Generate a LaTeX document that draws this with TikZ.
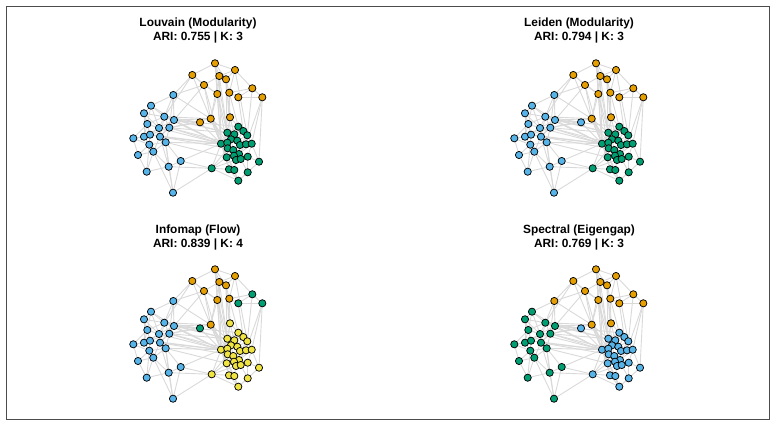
\documentclass[tikz,border=0pt]{standalone}
\usepackage{fontspec}
\setmainfont{Liberation Sans}
\usetikzlibrary{backgrounds}

\definecolor{okOrange}{HTML}{E69F00}
\definecolor{okBlue}{HTML}{56B4E9}
\definecolor{okGreen}{HTML}{009E73}
\definecolor{okYellow}{HTML}{F0E442}
\definecolor{edgeGray}{HTML}{D9D9D9}

% one network panel, node names get the prefix #1
\newcommand{\drawnet}[1]{%
  \foreach \n/\x/\y/\g in {1/215.0/63.3/A, 2/235.0/70.0/A, 3/192.3/75.0/A, 4/219.3/76.0/A, 5/226.0/79.3/A,
      6/204.0/85.0/A, 7/252.3/88.3/D, 8/217.3/94.0/A, 9/229.3/92.7/A, 10/238.3/97.3/D, 11/262.3/97.3/D,
      12/210.7/118.7/A, 13/230.0/117.3/E, 14/200.0/122.3/F,
      15/173.3/95.0/G, 16/151.0/105.7/B, 17/144.0/113.3/B, 18/164.3/116.7/B, 19/174.0/120.0/B,
      20/147.3/124.0/B, 21/159.0/128.0/B, 22/169.3/127.7/B, 23/133.3/138.3/B, 24/144.0/136.7/B,
      25/150.0/134.7/B, 26/160.0/136.7/B, 27/165.7/142.3/B, 28/149.3/144.7/B, 29/153.3/151.7/B,
      30/138.0/155.0/B, 31/180.7/161.0/B, 32/168.7/166.7/B, 33/146.7/171.7/B, 34/173.0/192.7/B,
      35/238.3/126.7/C, 36/243.3/131.0/C, 37/247.3/135.3/C, 38/227.3/132.7/C, 39/234.3/134.3/C,
      40/231.0/139.3/C, 41/237.3/140.7/C, 42/221.0/143.7/C, 43/227.3/142.7/C, 44/240.0/145.0/C,
      45/246.0/144.3/C, 46/251.7/143.7/C, 47/227.7/148.3/C, 48/233.3/150.0/C, 49/239.0/154.0/C,
      50/226.7/157.3/C, 51/234.0/155.7/C, 52/236.0/160.0/C, 53/240.7/159.0/C, 54/247.7/156.7/C,
      55/259.0/161.7/C, 56/211.7/168.3/C, 57/229.0/169.3/C, 58/234.3/170.0/C, 59/247.7/172.3/C,
      60/238.3/180.7/C}
    \node[vertex, fill=c\g] (#1\n) at (\x,\y) {};
  \begin{pgfonlayer}{background}
    \foreach \a/\b in {1/2, 1/3, 1/4, 1/5, 1/8, 2/4, 2/5, 2/7, 3/6, 3/8, 4/5, 4/6, 4/8, 5/9, 6/8, 6/12,
        7/10, 7/11, 7/9, 9/10, 10/11, 8/12, 9/13, 5/13, 4/12, 2/9,
        3/15, 6/15, 3/18, 12/18, 12/19, 14/19, 14/18, 14/22, 6/19, 12/22, 15/12,
        1/42, 4/42, 4/38, 5/43, 8/38, 8/42, 8/47, 9/35, 12/42, 12/38, 12/43, 13/35, 13/39, 13/38,
        7/37, 11/46, 11/55, 11/45, 10/36, 14/42, 6/42, 3/42, 2/37, 5/40, 12/50, 12/47, 1/38,
        15/16, 15/18, 15/19, 15/22, 16/17, 16/18, 16/20, 16/19, 17/18, 17/20, 17/21, 17/24,
        18/19, 18/21, 18/22, 18/20, 19/22, 19/21, 20/21, 20/24, 20/25, 21/22, 21/25, 21/26,
        22/26, 22/27, 23/24, 23/20, 23/28, 23/30, 24/25, 24/28, 25/26, 25/28, 26/27, 26/29,
        27/28, 27/29, 28/29, 28/30, 29/30, 29/33, 30/33, 32/33, 29/32, 27/32, 31/27, 31/32,
        26/19, 22/25, 24/21, 18/26, 16/21, 17/25, 33/28, 32/26,
        19/42, 19/38, 22/42, 22/43, 18/42, 27/42, 26/47, 31/42, 31/56, 22/38, 19/35, 27/50,
        26/42, 21/42, 18/38, 32/56, 25/42,
        34/32, 34/31, 34/56, 34/27, 34/29,
        56/42, 56/47, 56/50, 56/57, 56/60, 56/52,
        35/36, 35/37, 35/38, 35/39, 36/37, 36/39, 36/41, 37/41, 37/44, 37/45, 37/46, 38/39,
        38/40, 38/42, 38/43, 39/40, 39/41, 40/41, 40/43, 40/44, 41/44, 41/45, 42/43, 42/47,
        42/50, 43/47, 43/48, 44/45, 44/48, 44/49, 45/46, 45/49, 46/54, 46/55, 47/48, 47/50,
        48/49, 48/51, 49/53, 49/54, 50/51, 50/52, 50/57, 51/52, 51/53, 52/53, 52/58, 53/54,
        53/59, 54/55, 54/59, 55/59, 57/58, 58/60, 59/60, 57/60, 42/57, 42/52, 43/51, 39/44,
        35/42, 35/41, 46/49, 40/48, 36/45, 42/60, 42/58, 38/47}
      \draw[edge] (#1\a) -- (#1\b);
  \end{pgfonlayer}
}

\begin{document}
\begin{tikzpicture}[x=1pt, y=-1pt,
    vertex/.style={circle, draw=black, line width=0.75pt, minimum size=7.2pt, inner sep=0pt},
    edge/.style={edgeGray, line width=0.9pt},
    paneltitle/.style={align=center, font=\fontsize{11.9}{14}\selectfont\bfseries, inner sep=0pt},
    frame/.style={draw=black!70, line width=1pt}]

  \useasboundingbox (0,0) rectangle (776,427);
  \draw[frame] (6.5,6.5) rectangle (769.5,419.5);

  % Louvain
  \begin{scope}
    \colorlet{cA}{okOrange}\colorlet{cB}{okBlue}\colorlet{cC}{okGreen}\colorlet{cD}{okOrange}
    \colorlet{cE}{okOrange}\colorlet{cF}{okOrange}\colorlet{cG}{okBlue}
    \node[paneltitle] (louvain) at (198,31) {Louvain (Modularity)\\ARI: 0.755 | K: 3};
    \drawnet{lv}
  \end{scope}

  % Leiden
  \begin{scope}[shift={(381,0)}]
    \colorlet{cA}{okOrange}\colorlet{cB}{okBlue}\colorlet{cC}{okGreen}\colorlet{cD}{okOrange}
    \colorlet{cE}{okOrange}\colorlet{cF}{okBlue}\colorlet{cG}{okBlue}
    \node[paneltitle] (leiden) at (198,31) {Leiden (Modularity)\\ARI: 0.794 | K: 3};
    \drawnet{ld}
  \end{scope}

  % Infomap
  \begin{scope}[shift={(0,206)}]
    \colorlet{cA}{okOrange}\colorlet{cB}{okBlue}\colorlet{cC}{okYellow}\colorlet{cD}{okGreen}
    \colorlet{cE}{okYellow}\colorlet{cF}{okGreen}\colorlet{cG}{okBlue}
    \node[paneltitle] (infomap) at (198,32) {Infomap (Flow)\\ARI: 0.839 | K: 4};
    \drawnet{im}
  \end{scope}

  % Spectral
  \begin{scope}[shift={(381,206)}]
    \colorlet{cA}{okOrange}\colorlet{cB}{okGreen}\colorlet{cC}{okBlue}\colorlet{cD}{okOrange}
    \colorlet{cE}{okOrange}\colorlet{cF}{okBlue}\colorlet{cG}{okOrange}
    \node[paneltitle] (spectral) at (198,32) {Spectral (Eigengap)\\ARI: 0.769 | K: 3};
    \drawnet{sp}
  \end{scope}
\end{tikzpicture}
\end{document}
